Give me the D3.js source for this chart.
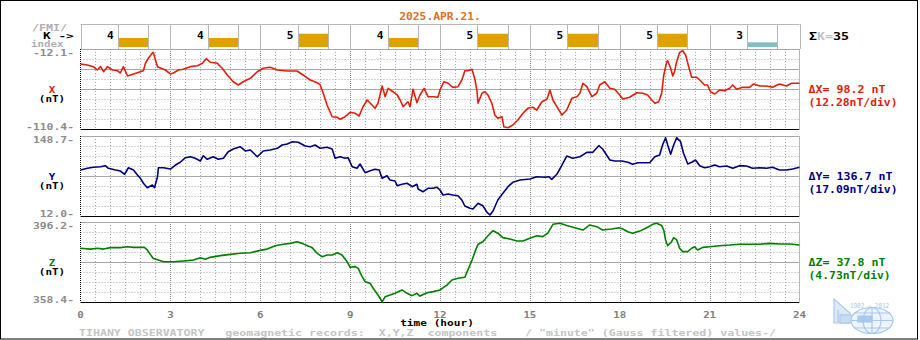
<!DOCTYPE html>
<html><head><meta charset="utf-8">
<script src="https://cdn.jsdelivr.net/npm/d3@7"></script>
<style>
html,body{margin:0;padding:0;background:#fff;}
svg text{font-family:"DejaVu Sans Mono",monospace;font-weight:bold;font-size:9.5px;}
</style></head><body><svg id="c" width="920" height="340"></svg>
<script>
const title = "2025.APR.21.";
const kIndex = [4, 4, 5, 4, 5, 5, 5, 3];
const kSum = 35;
const hourTicks = [0, 3, 6, 9, 12, 15, 18, 21, 24];
const componentNames = ["X", "Y", "Z"];
const rangeMax = [-12.1, 148.7, 396.2];
const rangeMin = [-110.4, 12.0, 358.4];
const rangeLabelMax = ["-12.1", "148.7", "396.2"];
const rangeLabelMin = ["-110.4", "12.0", "358.4"];
const deltaText = ["\u0394X= 98.2 nT", "\u0394Y= 136.7 nT", "\u0394Z= 37.8 nT"];
const perDivText = ["(12.28nT/div)", "(17.09nT/div)", "(4.73nT/div)"];
const footer = "TIHANY OBSERVATORY   geomagnetic records:  X,Y,Z  components    / \"minute\" (Gauss filtered) values-/";

const xHours = [0,0.23,0.43,0.56,0.67,0.77,0.9,1.07,1.23,1.33,1.43,1.57,1.77,2.0,2.1,2.17,2.27,2.4,2.43,2.5,2.57,2.67,2.83,3.0,3.1,3.27,3.43,3.67,3.9,4.07,4.2,4.33,4.57,4.73,4.9,5.1,5.27,5.43,5.67,5.9,6.1,6.33,6.57,6.9,7.23,7.43,7.67,7.9,
8.0,8.1,8.23,8.4,8.57,8.67,8.83,9.0,9.17,9.3,9.43,9.57,9.73,9.83,9.93,10.07,10.17,10.27,10.43,10.57,10.67,10.77,10.93,11.0,11.1,11.23,11.33,11.47,11.6,11.77,11.93,12.0,12.13,12.27,12.43,12.6,12.73,12.83,12.93,13.07,13.17,13.23,13.27,13.4,13.5,13.6,13.73,13.83,13.93,14.07,14.13,14.27,14.43,14.6,14.77,14.93,15.1,15.23,15.4,15.57,15.67,15.77,15.9,16.07,16.23,16.4,16.57,16.67,16.77,16.9,17.07,17.23,
17.33,17.5,17.67,17.83,18.0,18.1,18.33,18.57,18.77,18.93,19.07,19.17,19.3,19.4,19.47,19.57,19.6,19.7,19.77,19.83,19.9,20.0,20.1,20.2,20.3,20.4,20.57,20.67,20.83,20.93,21.03,21.17,21.33,21.5,21.67,21.77,21.9,22.1,22.33,22.47,22.67,22.9,23.1,23.33,23.57,23.73,24.0];
const xValues = [-30.5,-31.8,-33.8,-37.9,-33.8,-40.0,-33.8,-37.9,-38.8,-41.6,-33.8,-45.3,-42.8,-40.0,-38.8,-29.3,-23.2,-17.0,-16.2,-25.6,-33.8,-35.4,-37.9,-42.8,-41.6,-37.9,-37.0,-33.8,-32.6,-29.7,-24.0,-28.4,-29.7,-35.8,-44.0,-52.3,-56.3,-52.3,-48.1,-40.0,-35.8,-34.6,-37.9,-39.1,-39.1,-44.0,-50.2,-53.5,
-56.3,-66.2,-80.9,-95.3,-96.0,-98.5,-95.3,-89.9,-91.1,-94.4,-83.0,-74.8,-80.9,-85.0,-78.8,-57.6,-70.7,-60.4,-64.6,-68.6,-74.8,-83.0,-76.9,-83.0,-61.6,-78.1,-68.6,-60.4,-70.7,-70.7,-71.4,-62.5,-52.3,-54.2,-59.2,-58.4,-50.2,-38.8,-38.8,-37.0,-50.2,-62.5,-78.8,-66.5,-64.6,-68.6,-78.8,-93.2,-97.3,-95.3,-107.6,-108.8,-105.5,-99.3,-91.1,-85.0,-83.7,-87.1,-76.9,-73.9,-62.5,-74.8,-83.0,-93.2,-87.1,-72.7,-70.7,-66.5,-54.2,-58.4,-70.7,-66.5,
-56.3,-52.3,-60.4,-61.6,-68.6,-73.5,-71.4,-65.8,-66.5,-68.6,-74.8,-78.8,-76.9,-66.5,-44.0,-27.7,-26.5,-35.8,-45.3,-40.0,-27.7,-16.2,-14.2,-19.5,-33.8,-46.9,-46.9,-50.2,-56.3,-56.3,-64.6,-67.4,-62.5,-63.3,-60.4,-56.3,-61.6,-59.2,-59.2,-55.1,-57.6,-57.6,-59.2,-55.1,-57.6,-54.2,-54.2];

const yHours = [0,0.23,0.43,0.67,0.83,0.93,1.17,1.33,1.47,1.6,1.77,1.9,2.0,2.1,2.23,2.4,2.47,2.57,2.6,2.77,3.0,3.17,3.33,3.5,3.67,3.83,4.0,4.1,4.23,4.43,4.6,4.77,4.93,5.1,5.33,5.5,5.67,5.9,6.1,6.33,6.57,6.73,6.9,7.07,7.27,7.33,7.5,7.67,7.83,8.0,8.23,8.4,8.5,8.67,8.83,8.93,9.07,9.23,9.33,9.5,9.67,9.83,9.97,10.07,10.23,10.33,10.5,10.57,10.73,10.9,11.07,11.23,11.27,11.43,11.6,11.77,11.9,12.0,12.1,12.27,12.43,12.6,12.73,12.83,13.0,13.1,13.27,13.43,13.57,13.67,13.77,13.93,14.1,14.27,14.43,14.67,15.0,15.23,15.5,15.63,15.73,15.9,16.07,16.23,16.43,16.67,16.9,17.1,17.3,17.43,17.67,17.83,18.07,18.27,18.43,18.6,18.77,19.0,19.17,19.33,19.43,19.53,19.6,19.7,19.8,19.9,20.03,20.13,20.27,20.4,20.53,20.67,20.83,21.0,21.17,21.33,21.57,21.77,22.0,22.23,22.43,22.67,22.9,23.1,23.33,23.57,23.77,24.0];
const yValues = [90.6,93.5,95.2,96.2,98.0,93.5,90.6,88.9,83.3,94.5,90.6,82.1,76.4,67.9,60.4,65.0,60.4,79.2,94.5,94.5,92.3,99.1,103.8,111.6,113.3,110.6,106.0,115.0,108.9,113.3,108.9,110.6,121.9,126.5,130.4,123.1,124.8,113.3,123.1,124.8,127.7,133.3,135.0,139.0,137.9,136.2,131.6,130.4,133.3,127.7,129.4,126.5,110.6,113.3,110.6,111.6,96.2,93.5,100.9,86.0,89.4,91.8,90.6,76.4,80.9,73.5,71.8,63.8,66.2,67.9,62.1,66.2,58.1,53.5,59.3,59.3,61.0,56.4,47.9,49.6,47.9,46.7,39.3,29.1,25.2,24.0,33.7,29.6,18.3,13.7,20.5,39.3,50.8,62.1,69.6,73.5,75.2,79.2,78.1,79.2,74.7,83.3,99.1,114.5,110.6,113.3,120.8,120.8,132.1,126.5,107.7,106.0,106.0,103.8,100.3,103.1,103.1,103.1,113.3,116.2,133.3,145.8,133.3,117.4,133.3,145.8,139.0,119.1,100.9,103.8,107.7,98.0,94.5,96.2,99.1,96.2,97.4,93.5,98.0,97.4,93.5,94.5,93.5,95.2,90.6,90.6,92.3,95.2];

const zHours = [0,0.33,0.57,0.77,1.0,1.33,1.57,1.77,2.13,2.23,2.33,2.43,2.6,2.77,3.1,3.43,3.77,4.0,4.17,4.33,4.67,5.0,5.33,5.67,6.0,6.23,6.5,6.77,7.0,7.23,7.4,7.57,7.73,7.9,8.07,8.23,8.4,8.57,8.73,8.9,9.0,9.17,9.27,9.4,9.5,9.67,9.77,9.93,10.07,10.17,10.33,10.5,10.73,10.9,11.07,11.23,11.33,11.57,11.77,12.0,12.23,12.4,12.6,12.83,12.93,13.07,13.17,13.27,13.43,13.6,13.77,13.93,14.1,14.33,14.57,14.77,15.0,15.23,15.43,15.6,15.77,16.0,16.23,16.5,16.77,17.0,17.23,17.43,17.73,17.97,18.1,18.27,18.43,18.67,18.9,19.1,19.23,19.4,19.47,19.53,19.6,19.73,19.8,19.9,20.0,20.1,20.27,20.4,20.5,20.6,20.77,21.0,21.33,21.67,22.0,22.33,22.67,23.0,23.33,23.67,24.0];
const zValues = [383.8,383.4,383.8,383.4,384.1,384.1,384.5,384.2,384.2,383.0,380.9,379.0,378.2,377.4,377.4,377.8,378.2,379.3,378.6,379.5,380.3,380.9,381.4,381.7,382.8,383.4,385.0,385.7,386.1,386.9,386.1,385.0,384.1,381.4,379.8,380.6,380.6,381.7,380.6,377.4,374.8,375.1,374.3,370.4,368.0,367.2,364.9,361.7,358.5,360.9,361.7,362.5,364.1,362.5,361.4,362.5,361.2,362.8,363.3,364.1,366.4,368.8,369.6,370.1,373.5,378.2,382.2,385.7,386.9,389.7,392.1,390.9,388.8,388.2,387.2,387.2,388.5,389.7,389.3,390.9,395.1,395.6,394.5,393.5,392.4,394.8,394.0,392.4,392.9,393.5,392.9,391.6,390.9,391.9,393.5,395.1,395.6,394.5,392.4,387.7,385.0,386.9,388.8,387.7,383.8,382.2,382.2,383.8,384.5,383.0,384.2,384.5,385.0,385.3,385.7,385.7,385.7,386.1,385.8,385.8,385.3];

const lineColors = ["#e0200c", "#00007f", "#007f00"];
const series = [
  {hours: xHours, values: xValues},
  {hours: yHours, values: yValues},
  {hours: zHours, values: zValues}
];

const svg = d3.select("#c");
const L = 80, R = 799.5;
const panels = [{top: 49, bottom: 129}, {top: 136, bottom: 216}, {top: 222, bottom: 302}];
const kTop = 24, kBottom = 49;
const x = d3.scaleLinear().domain([0, 24]).range([L + 0.5, R]);
const gridGray = "#a8a8a8";

// text helper: pixel-font look via stretched glyphs
function label(g, str, px, py, opts) {
  const o = Object.assign({size: 9.5, cw: 6.9, anchor: "start", fill: "#000"}, opts || {});
  const t = g.append("text").attr("x", px).attr("y", py).attr("text-anchor", o.anchor)
    .attr("fill", o.fill).style("font-size", o.size + "px")
    .attr("textLength", String(str).length * o.cw).attr("lengthAdjust", "spacingAndGlyphs")
    .text(str);
  if (o.pre) t.attr("xml:space", "preserve").style("white-space", "pre");
  return t;
}

// border
svg.append("rect").attr("x", 0.5).attr("y", 0.5).attr("width", 917).attr("height", 338.5)
  .attr("fill", "#fff").attr("stroke", "#000");

// title
label(svg, title, 440, 20, {anchor: "middle", fill: "#e0701c", size: 10.5, cw: 6.8});

// K row
const kg = svg.append("g");
kg.append("line").attr("x1", L + 0.5).attr("x2", R).attr("y1", kTop + 0.5).attr("y2", kTop + 0.5).attr("stroke", "#b8b8b8");
hourTicks.forEach(h => {
  kg.append("line").attr("x1", Math.round(x(h)) + 0.5).attr("x2", Math.round(x(h)) + 0.5)
    .attr("y1", kTop).attr("y2", kBottom).attr("stroke", "#b8b8b8");
});
const kh = d3.scaleLinear().domain([3, 5]).range([4.7, 13.3]);
kIndex.forEach((k, i) => {
  const h0 = i * 3;
  const bx0 = Math.round(x(h0 + 1.25)), bx1 = Math.round(x(h0 + 2.26));
  kg.append("rect").attr("x", bx0).attr("y", 47 - kh(k)).attr("width", bx1 - bx0).attr("height", kh(k))
    .attr("fill", k >= 4 ? "#e0a000" : "#80c0c4");
  [bx0, bx1].forEach(bx => kg.append("line").attr("x1", bx + 0.5).attr("x2", bx + 0.5)
    .attr("y1", kTop).attr("y2", kBottom).attr("stroke", "#b8b8b8"));
  label(kg, k, x(h0 + 1), 39, {anchor: "middle", size: 10.5, cw: 6.7});
});
label(svg, "/FMI/", 32, 30.5, {fill: "#b0b0b0", size: 8.5, cw: 7});
label(svg, "K ->", 43, 38.5, {size: 8.5, cw: 7.7});
label(svg, "index", 31, 46.5, {fill: "#b0b0b0", size: 8.5, cw: 6.5});
const sk = svg.append("text").attr("x", 809).attr("y", 40).style("font-size", "10px")
  .attr("textLength", 40).attr("lengthAdjust", "spacingAndGlyphs");
sk.append("tspan").attr("fill", "#000").text("\u03a3");
sk.append("tspan").attr("fill", "#c0c0c0").text("K=");
sk.append("tspan").attr("fill", "#000").text(kSum);

// panels
panels.forEach((p, i) => {
  const g = svg.append("g");
  const y = d3.scaleLinear().domain([rangeMin[i], rangeMax[i]]).range([p.bottom, p.top]);
  // vertical grid
  d3.range(1, 48).forEach(j => {
    const h = j / 2;
    const xx = Math.round(x(h)) + 0.5;
    const major = (j % 6 === 0);
    g.append("line").attr("x1", xx).attr("x2", xx).attr("y1", p.top).attr("y2", p.bottom)
      .attr("stroke", major ? "#888" : gridGray).attr("stroke-dasharray", major ? "1,1" : "1,2");
  });
  // horizontal grid
  for (let d = 0; d <= 8; d++) {
    const yy = p.top + d * 10 + 0.5;
    const solid = d === 0 || d === 4 || (i === 0 && d === 2);
    const ln = g.append("line").attr("x1", L + 0.5).attr("x2", R).attr("y1", yy).attr("y2", yy);
    if (d === 8) ln.attr("stroke", "#000");
    else if (solid) ln.attr("stroke", "#a8a8a8");
    else ln.attr("stroke", gridGray).attr("stroke-dasharray", "1,2");
  }
  // edges
  g.append("line").attr("x1", L + 0.5).attr("x2", L + 0.5).attr("y1", p.top).attr("y2", p.bottom)
    .attr("stroke", "#000").attr("stroke-dasharray", "1,1");
  g.append("line").attr("x1", R).attr("x2", R).attr("y1", p.top).attr("y2", p.bottom + 1)
    .attr("stroke", "#b8b8b8");
  // trace
  const s = series[i];
  const pts = s.hours.map((h, j) => [h, s.values[j]]);
  g.append("path").datum(pts)
    .attr("d", d3.line().x(d => x(d[0])).y(d => y(d[1])))
    .attr("fill", "none").attr("stroke", lineColors[i]).attr("stroke-width", 1.6)
    .attr("stroke-linejoin", "round");
  // labels
  label(g, rangeLabelMax[i] + "-", 74, p.top + 6.5, {anchor: "end", fill: "#8c8c8c", size: 9, cw: 6.85});
  label(g, rangeLabelMin[i] + "-", 74, p.bottom + 0.8, {anchor: "end", fill: "#8c8c8c", size: 9, cw: 6.85});
  const mid = (p.top + p.bottom) / 2;
  label(g, componentNames[i], 52, mid + 3.5, {anchor: "middle", fill: lineColors[i], size: 9.5, cw: 6.5});
  label(g, "(nT)", 52, mid + 13, {anchor: "middle", size: 9.5, cw: 6.6});
  label(g, deltaText[i], 808.5, mid + 4.3, {fill: lineColors[i], size: 10, cw: 7});
  label(g, perDivText[i], 808.5, mid + 17, {fill: lineColors[i], size: 10, cw: 6.85});
});

// x axis labels
hourTicks.forEach(h => {
  label(svg, h, x(h), 317.5, {anchor: "middle", fill: "#808080", size: 9, cw: 6.5});
});
label(svg, "time (hour)", 437, 325.5, {anchor: "middle", size: 9.5, cw: 6.7});
label(svg, footer, 79, 335.5, {fill: "#c4c4c4", size: 9, cw: 6.97, pre: true});

// logo
const lg = svg.append("g").attr("stroke", "#a8c8ee").attr("fill", "none").attr("stroke-width", 1.2);
lg.append("path").attr("d", "M834,299 L834,323 L850,323 L850,313 Z").attr("fill", "#dde9f8");
lg.append("path").attr("d", "M838,310 L838,322 M842,314 L842,322 M846,317 L846,322");
lg.append("rect").attr("x", 840).attr("y", 315).attr("width", 18).attr("height", 8).attr("fill", "#c8dcf4");
lg.append("ellipse").attr("cx", 872).attr("cy", 320.5).attr("rx", 21).attr("ry", 13).attr("fill", "#eef4fc");
lg.append("ellipse").attr("cx", 872).attr("cy", 320.5).attr("rx", 9).attr("ry", 13);
lg.append("path").attr("d", "M851,320.5 L893,320.5 M854,313 L890,313 M854,328 L890,328 M872,307.5 L872,333.5");
lg.append("rect").attr("x", 858).attr("y", 316).attr("width", 14).attr("height", 6).attr("fill", "#a8c8ee");
label(svg, "1902 \u2014 2012", 850, 307.5, {fill: "#a8c8ee", size: 7, cw: 3.55}).style("font-weight", "normal");
</script></body></html>
